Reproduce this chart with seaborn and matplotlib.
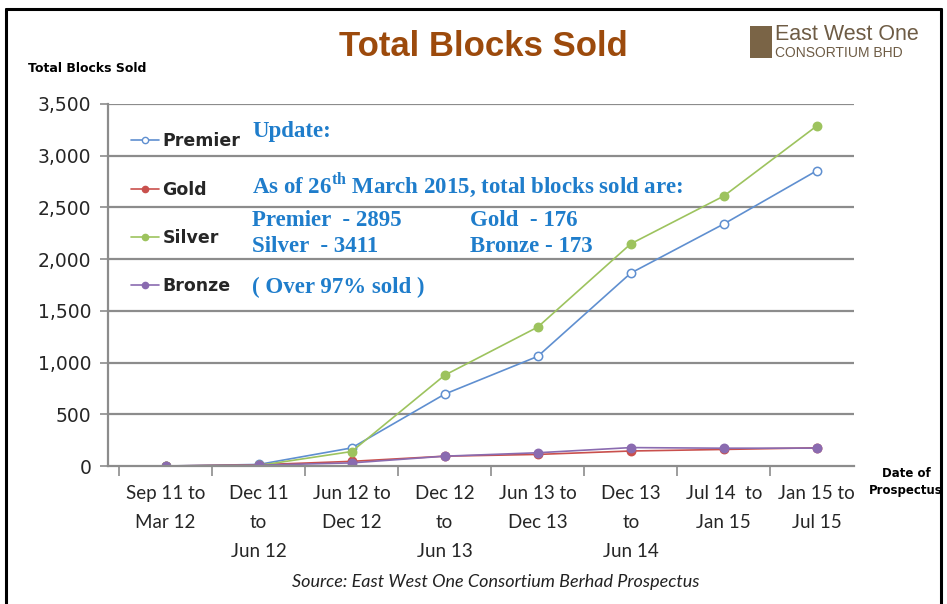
import seaborn as sns
import pandas as pd
import matplotlib.pyplot as plt
from matplotlib.lines import Line2D
from matplotlib.patches import Rectangle
from matplotlib.ticker import FuncFormatter, FixedLocator

# DATA
periods = ["Sep 11 to\nMar 12", "Dec 11\nto\nJun 12", "Jun 12 to\nDec 12", "Dec 12\nto\nJun 13",
           "Jun 13 to\nDec 13", "Dec 13\nto\nJun 14", "Jul 14  to\nJan 15", "Jan 15 to\nJul 15"]
premier = [0, 15, 175, 695, 1060, 1865, 2340, 2855]
gold = [0, 12, 45, 95, 112, 145, 160, 176]
silver = [0, 5, 140, 878, 1343, 2148, 2610, 3288]
bronze = [0, 8, 30, 95, 128, 178, 172, 173]
series_names = ["Premier", "Gold", "Silver", "Bronze"]
y_ticks = [0, 500, 1000, 1500, 2000, 2500, 3000, 3500]

colors = {"Premier": "#5F8FD0", "Gold": "#C9504D", "Silver": "#9DC35E", "Bronze": "#8A6BB0"}

df = pd.DataFrame({"x": list(range(len(periods))) * 4,
                   "value": premier + gold + silver + bronze,
                   "series": [s for s in series_names for _ in periods]})

sns.set_theme(style="white")
plt.rcParams['font.family'] = ['Lato', 'DejaVu Sans']
plt.rcParams['mathtext.fontset'] = 'custom'
plt.rcParams['mathtext.rm'] = 'Liberation Serif:bold'
plt.rcParams['mathtext.bf'] = 'Liberation Serif:bold'

fig = plt.figure(figsize=(9.47, 6.04), dpi=100)
ax = fig.add_axes([108 / 947, 138 / 604, 746 / 947, 362 / 604])

# grid
for t in y_ticks[1:]:
    ax.axhline(t, color="#8C8C8C", lw=1.6, zorder=0)

sns.lineplot(data=df, x="x", y="value", hue="series", palette=colors, hue_order=series_names,
             marker="o", markersize=6, linewidth=1.2, ax=ax, legend=False)
for line in ax.get_lines():
    c = line.get_color()
    line.set_markeredgecolor(c)
    line.set_markeredgewidth(1.1)
    if c == colors["Premier"]:
        line.set_markerfacecolor("white")

ax.set_xlim(-0.62, 7.4)
ax.set_ylim(0, 3500)
ax.set_xlabel("")
ax.set_ylabel("")
for s in ["top", "right"]:
    ax.spines[s].set_visible(False)
for s in ["left", "bottom"]:
    ax.spines[s].set_color("#8C8C8C")
    ax.spines[s].set_linewidth(1.6)

ax.set_yticks(y_ticks)
ax.yaxis.set_major_formatter(FuncFormatter(lambda v, p: "{:,.0f}".format(v)))
ax.tick_params(axis="y", direction="out", length=6, width=1.2, color="#8C8C8C",
               pad=6, left=True)
ax.set_xticks(range(len(periods)))
ax.set_xticklabels(periods, fontsize=13.5, linespacing=1.85, va="top")
ax.tick_params(axis="x", length=0, pad=14)
ax.xaxis.set_minor_locator(FixedLocator([i + 0.5 for i in range(-1, len(periods))]))
ax.tick_params(axis="x", which="minor", direction="out", length=7, width=1.2, color="#8C8C8C",
               bottom=True)
for lab in ax.get_yticklabels():
    lab.set_family(["DejaVu Sans"])
    lab.set_fontsize(13.5)

# legend
handles = [Line2D([0], [0], color=colors[s], lw=1.2, marker="o", markersize=4.5, markeredgecolor=colors[s],
                  markerfacecolor="white" if s == "Premier" else colors[s]) for s in series_names]
leg = ax.legend(handles, series_names, loc="upper left", bbox_to_anchor=(0.01, 0.965), frameon=False,
                handlelength=1.6, handletextpad=0.2, labelspacing=1.75,
                prop={"family": ["DejaVu Sans"], "weight": "bold", "size": 12.5})

# annotation text
blue = "#1F7DCB"
tf = dict(family=["Liberation Serif"], weight="bold", color=blue, fontsize=16.5, va="center",
          transform=fig.transFigure)
fig.text(252 / 947, 1 - 132 / 604, "Update:", **tf)
fig.text(252 / 947, 1 - 185 / 604, "As of 26$^{\\mathbf{th}}$ March 2015, total blocks sold are:", **tf)
fig.text(252 / 947, 1 - 221 / 604, "Premier  - 2895", **tf)
fig.text(470 / 947, 1 - 221 / 604, "Gold  - 176", **tf)
fig.text(252 / 947, 1 - 247 / 604, "Silver  - 3411", **tf)
fig.text(470 / 947, 1 - 247 / 604, "Bronze - 173", **tf)
fig.text(252 / 947, 1 - 287 / 604, "( Over 97% sold )", **tf)

# titles and labels
fig.text(483 / 947, 1 - 47 / 604, "Total Blocks Sold", ha="center", va="center", fontsize=25,
         weight="bold", color="#9C4A0C", family=["Liberation Sans"])
fig.text(28 / 947, 1 - 69 / 604, "Total Blocks Sold", ha="left", va="center", fontsize=9,
         weight="bold", color="black", family=["DejaVu Sans Condensed", "DejaVu Sans"])
fig.text(906 / 947, 1 - 482 / 604, "Date of\nProspectus", ha="center", va="center", fontsize=8.5,
         weight="bold", color="black", family=["DejaVu Sans Condensed", "DejaVu Sans"],
         linespacing=1.4)
fig.text(496 / 947, 1 - 582 / 604, "Source: East West One Consortium Berhad Prospectus",
         ha="center", va="center", fontsize=13, style="italic", color="#222222")

# logo
fig.patches.append(Rectangle((750 / 947, 1 - 58 / 604), 22 / 947, 32 / 604, transform=fig.transFigure,
                             facecolor="#7A6446", edgecolor="none"))
fig.text(775 / 947, 1 - 34 / 604, "East West One", ha="left", va="center", fontsize=15.5,
         color="#6E5C45", family=["Liberation Sans"])
fig.text(775 / 947, 1 - 53 / 604, "CONSORTIUM BHD", ha="left", va="center", fontsize=10,
         color="#6E5C45", family=["Liberation Sans"])

# frame
for xs, ys in [([6, 6], [9, 604]), ([6, 941], [9, 9]), ([941, 941], [9, 604])]:
    fig.add_artist(Line2D([x / 947 for x in xs], [1 - y / 604 for y in ys], color="black", lw=2.2,
                          transform=fig.transFigure))

plt.savefig("out.png", dpi=100)
plt.close()
